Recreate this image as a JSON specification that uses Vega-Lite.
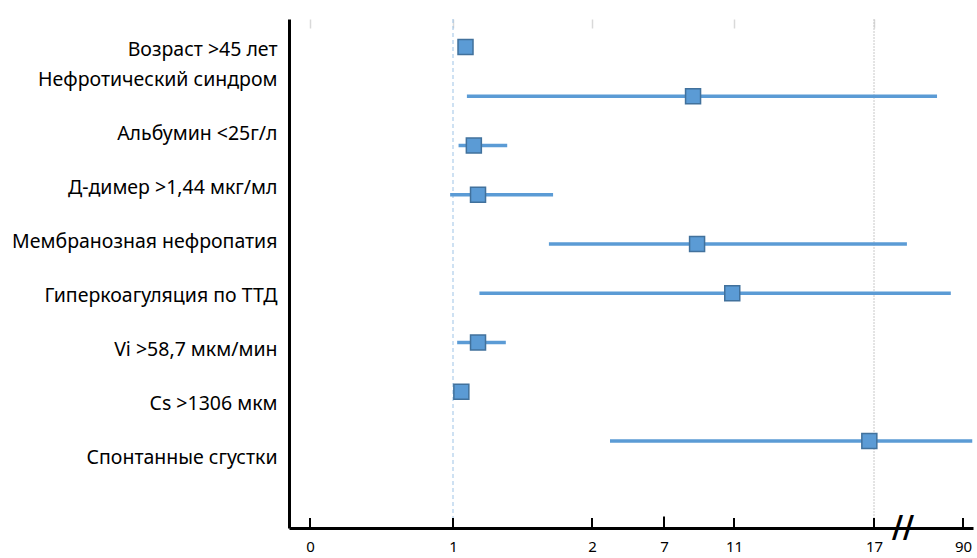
{
  "$schema": "https://vega.github.io/schema/vega-lite/v6.json",
  "width": 684,
  "height": 509,
  "autosize": {"type": "none"},
  "padding": {"left": 289, "top": 19, "right": 4, "bottom": 30},
  "background": "white",
  "config": {"view": {"stroke": null}},
  "data": {
    "values": [
      {"factor": "Возраст >45 лет", "or": 1.09, "lo": 1.06, "hi": 1.12},
      {"factor": "Нефротический синдром", "or": 8.66, "lo": 1.1, "hi": 68.7},
      {"factor": "Альбумин <25г/л", "or": 1.15, "lo": 1.04, "hi": 1.39},
      {"factor": "Д-димер >1,44 мкг/мл", "or": 1.18, "lo": 0.98, "hi": 1.72},
      {"factor": "Мембранозная нефропатия", "or": 8.89, "lo": 1.69, "hi": 44},
      {"factor": "Гиперкоагуляция по ТТД", "or": 10.9, "lo": 1.19, "hi": 80},
      {"factor": "Vi >58,7 мкм/мин", "or": 1.18, "lo": 1.03, "hi": 1.38},
      {"factor": "Cs >1306 мкм", "or": 1.06, "lo": 1.04, "hi": 1.08},
      {"factor": "Спонтанные сгустки", "or": 16.8, "lo": 3.25, "hi": 97.4}
    ]
  },
  "layer": [
    {
      "data": {"values": [{"ref": 1}]},
      "mark": {"type": "rule", "color": "#9DC3E6", "strokeWidth": 1, "strokeDash": [4, 3]},
      "encoding": {
        "x": {"field": "ref", "type": "quantitative", "axis": null,
              "scale": {"domain": [-0.15, 0, 1, 2, 7, 11, 17, 90, 98], "range": [0, 21, 164, 303, 375, 445, 585, 674, 684], "nice": false, "zero": false}}
      }
    },
    {
      "data": {"values": [{"ref": 17}]},
      "mark": {"type": "rule", "color": "#C8C8C8", "strokeWidth": 1, "strokeDash": [2, 1]},
      "encoding": {
        "x": {"field": "ref", "type": "quantitative", "axis": null}
      }
    },
    {
      "mark": {"type": "rule", "color": "#5B9BD5", "strokeWidth": 3.5},
      "encoding": {
        "x": {"field": "lo", "type": "quantitative",
              "scale": {"domain": [-0.15, 0, 1, 2, 7, 11, 17, 90, 98], "range": [0, 21, 164, 303, 375, 445, 585, 674, 684], "nice": false, "zero": false},
              "axis": {
                "title": null, "values": [0, 1, 2, 7, 11, 17, 90], "grid": false,
                "domainColor": "black", "domainWidth": 3, "ticks": false,
                "labelFont": "Noto Sans", "labelFontSize": 15, "labelColor": "black",
                "labelPadding": 11, "labelFlush": false, "labelOverlap": false
              }},
        "x2": {"field": "hi"},
        "y": {"field": "factor", "type": "nominal", "sort": null, "axis": null,
              "scale": {"type": "band", "paddingInner": 0, "paddingOuter": 0.668, "align": 0.052}}
      }
    },
    {
      "mark": {"type": "square", "size": 225, "fill": "#5B9BD5", "stroke": "#41719C", "strokeWidth": 1.5, "opacity": 1},
      "encoding": {
        "x": {"field": "or", "type": "quantitative", "axis": null},
        "y": {"field": "factor", "type": "nominal", "sort": null, "axis": null,
              "scale": {"type": "band", "paddingInner": 0, "paddingOuter": 0.668, "align": 0.052}}
      }
    },
    {
      "mark": {"type": "point", "opacity": 0},
      "encoding": {
        "x": {"field": "or", "type": "quantitative",
              "axis": {"orient": "top", "values": [0, 1, 2, 11, 17], "title": null, "grid": false,
                       "domain": false, "labels": false, "tickColor": "#D9D9D9", "tickWidth": 1.5, "tickSize": -9}},
        "y": {"field": "factor", "type": "nominal", "sort": null,
              "scale": {"type": "point", "padding": 0.713, "align": 0.09},
              "axis": {"title": null, "orient": "left", "domainColor": "black", "domainWidth": 3,
                       "ticks": false, "grid": false, "labelPadding": 12,
                       "labelFont": "Noto Sans", "labelFontSize": 19.5, "labelColor": "black",
                       "labelLimit": 300,
                       "labelOffset": {"condition": {"test": "datum.index === 0", "value": 24}, "value": 0}}}
      }
    },
    {
      "data": {"values": [{"t": 0}, {"t": 1}, {"t": 2}, {"t": 7}, {"t": 11}, {"t": 17}, {"t": 90}]},
      "mark": {"type": "tick", "orient": "vertical", "color": "black", "thickness": 2, "opacity": 1},
      "encoding": {
        "x": {"field": "t", "type": "quantitative", "axis": null},
        "y": {"value": "height"},
        "yOffset": {"condition": {"test": "datum.t === 7", "value": -6.5}, "value": -5},
        "size": {"condition": {"test": "datum.t === 7", "value": 13}, "value": 10}
      }
    },
    {
      "data": {"values": [{"brk": 40.8}]},
      "mark": {"type": "text", "text": "//", "fontSize": 30, "fontWeight": "bold", "font": "DejaVu Sans", "color": "black", "baseline": "middle", "align": "center"},
      "encoding": {
        "x": {"field": "brk", "type": "quantitative", "axis": null},
        "y": {"value": "height"}
      }
    }
  ],
  "resolve": {"scale": {"y": "independent"}, "axis": {"x": "independent", "y": "independent"}}
}
